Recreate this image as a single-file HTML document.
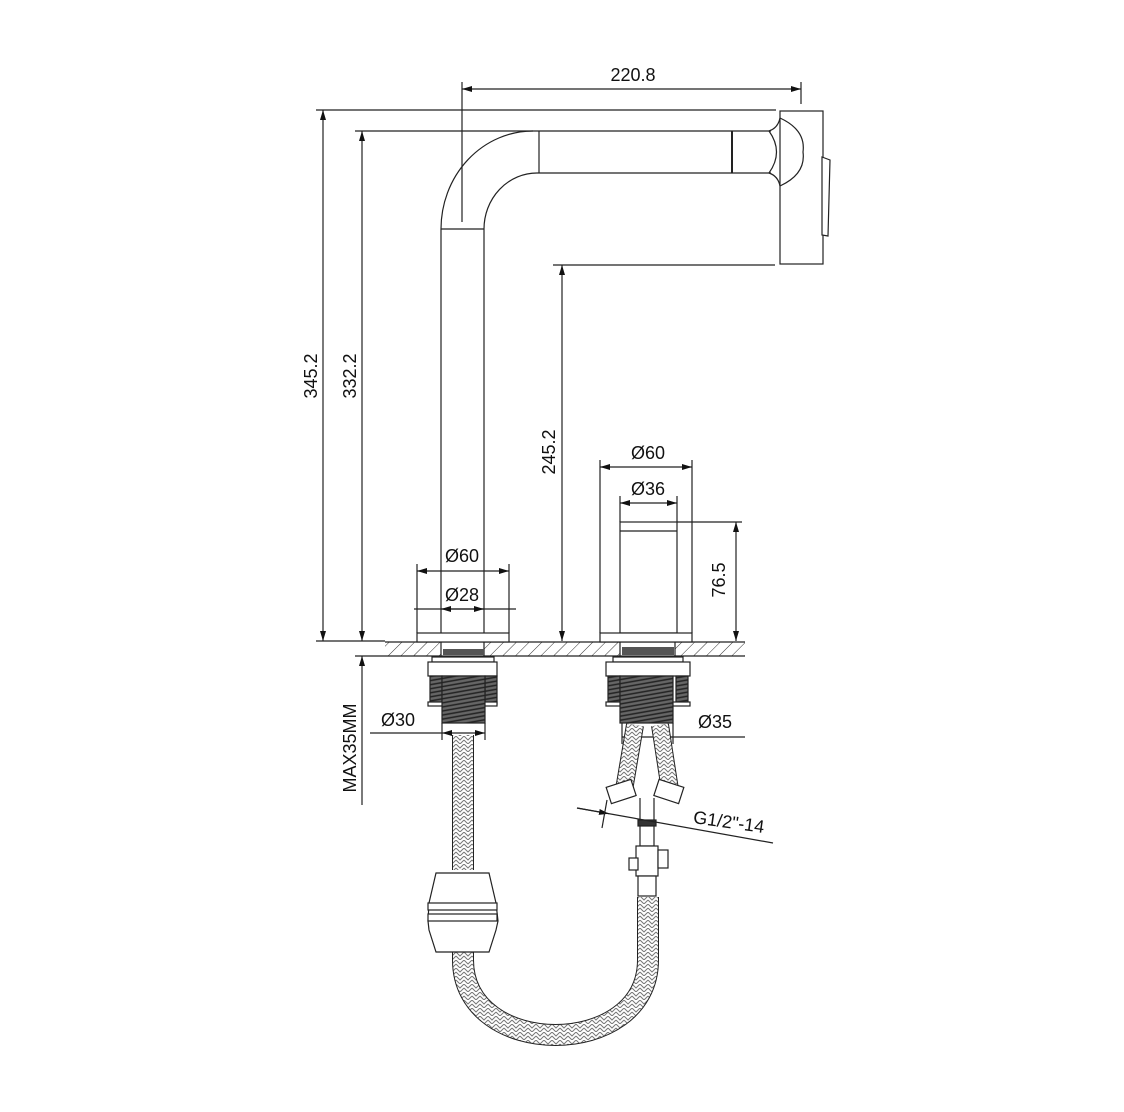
<!DOCTYPE html>
<html><head><meta charset="utf-8"><style>
html,body{margin:0;padding:0;background:#fff}
svg{display:block}
text{font-family:"Liberation Sans",sans-serif;font-size:18px;fill:#111}
</style></head><body>
<svg width="1124" height="1112" viewBox="0 0 1124 1112" xmlns="http://www.w3.org/2000/svg">
<defs>
<pattern id="hatch" width="9" height="9" patternUnits="userSpaceOnUse" patternTransform="rotate(45)">
<line x1="0" y1="0" x2="0" y2="9" stroke="#333" stroke-width="1"/></pattern>
<pattern id="braid" width="8" height="8" patternUnits="userSpaceOnUse">
<rect width="8" height="8" fill="#fff"/>
<path d="M0 0 L4 4 L8 0 M0 4 L4 8 L8 4" stroke="#777" stroke-width="1" fill="none"/></pattern>
<pattern id="thread" width="4" height="4" patternUnits="userSpaceOnUse" patternTransform="rotate(-10)">
<rect width="4" height="4" fill="#666"/><line x1="0" y1="1" x2="4" y2="1" stroke="#222" stroke-width="1.5"/></pattern>
<marker id="ar" markerWidth="10" markerHeight="6" refX="10" refY="3" orient="auto-start-reverse" markerUnits="userSpaceOnUse">
<path d="M0 0 L10 3 L0 6 Z" fill="#111"/></marker>
</defs>
<g stroke="#222" stroke-width="1.2" fill="none">
<line x1="462" y1="89" x2="801" y2="89" marker-start="url(#ar)" marker-end="url(#ar)"/>
<line x1="462" y1="82" x2="462" y2="222"/>
<line x1="801" y1="82" x2="801" y2="104"/>
<line x1="316" y1="110" x2="776" y2="110"/>
<line x1="355" y1="131" x2="537" y2="131"/>
<path d="M533 131 A92 98 0 0 0 441 229"/>
<path d="M537 173 A53 56 0 0 0 484 229"/>
<line x1="537" y1="131" x2="771" y2="131"/>
<line x1="537" y1="173" x2="771" y2="173"/>
<line x1="539" y1="131" x2="539" y2="173"/>
<line x1="732" y1="131" x2="732" y2="173" stroke-width="2"/>
<path d="M769 131 Q784 152 769 173"/>
<path d="M780 118 Q806 130 803 152 Q806 174 780 186"/>
<path d="M769 131 Q778 128 780 118 M769 173 Q778 176 780 186"/>
<rect x="780" y="111" width="43" height="153"/>
<path d="M822 157 L830 160 L828 236 L822 235 Z" fill="#fff"/>
<line x1="553" y1="265" x2="775" y2="265"/>
<line x1="441" y1="229" x2="441" y2="633"/>
<line x1="484" y1="229" x2="484" y2="633"/>
<line x1="441" y1="229" x2="484" y2="229"/>
<line x1="323" y1="110" x2="323" y2="641" marker-start="url(#ar)" marker-end="url(#ar)"/>
<line x1="362" y1="131" x2="362" y2="641" marker-start="url(#ar)" marker-end="url(#ar)"/>
<line x1="562" y1="265" x2="562" y2="641" marker-start="url(#ar)" marker-end="url(#ar)"/>
<line x1="316" y1="641" x2="385" y2="641"/>
<line x1="355" y1="656" x2="385" y2="656"/>
<line x1="362" y1="656" x2="362" y2="805" marker-start="url(#ar)"/>
<rect x="385" y="642" width="360" height="14" fill="url(#hatch)" stroke="none"/>
<line x1="385" y1="642" x2="745" y2="642"/>
<line x1="385" y1="656" x2="745" y2="656"/>
<rect x="441" y="642" width="43" height="14" fill="#fff"/>
<rect x="620" y="642" width="55" height="14" fill="#fff"/>
<rect x="443" y="649" width="41" height="6" fill="#555" stroke="none"/>
<rect x="622" y="647" width="52" height="8" fill="#555" stroke="none"/>
<rect x="417" y="633" width="92" height="9" fill="#fff"/>
<line x1="417" y1="571" x2="509" y2="571" marker-start="url(#ar)" marker-end="url(#ar)"/>
<line x1="417" y1="564" x2="417" y2="633"/><line x1="509" y1="564" x2="509" y2="633"/>
<line x1="414" y1="609" x2="516" y2="609"/>
<line x1="441" y1="609" x2="484" y2="609" marker-start="url(#ar)" marker-end="url(#ar)"/>
<line x1="600" y1="467" x2="692" y2="467" marker-start="url(#ar)" marker-end="url(#ar)"/>
<line x1="600" y1="460" x2="600" y2="633"/><line x1="692" y1="460" x2="692" y2="633"/>
<line x1="620" y1="503" x2="677" y2="503" marker-start="url(#ar)" marker-end="url(#ar)"/>
<line x1="620" y1="496" x2="620" y2="522"/><line x1="677" y1="496" x2="677" y2="522"/>
<rect x="620" y="522" width="57" height="111" fill="#fff"/>
<line x1="620" y1="531" x2="677" y2="531"/>
<rect x="600" y="633" width="92" height="9" fill="#fff"/>
<line x1="677" y1="522" x2="742" y2="522"/>
<line x1="736" y1="522" x2="736" y2="641" marker-start="url(#ar)" marker-end="url(#ar)"/>
<rect x="432" y="657" width="62" height="5" fill="#fff"/>
<rect x="428" y="662" width="69" height="14" fill="#fff"/>
<rect x="430" y="676" width="12" height="28" fill="url(#thread)"/>
<rect x="485" y="676" width="12" height="28" fill="url(#thread)"/>
<rect x="428" y="702" width="69" height="4" fill="#fff"/>
<rect x="442" y="676" width="43" height="47" fill="url(#thread)"/>
<line x1="370" y1="733" x2="442" y2="733"/>
<line x1="442" y1="733" x2="485" y2="733" marker-start="url(#ar)" marker-end="url(#ar)"/>
<line x1="442" y1="723" x2="442" y2="740"/><line x1="485" y1="723" x2="485" y2="740"/>
<rect x="613" y="657" width="70" height="5" fill="#fff"/>
<rect x="606" y="662" width="84" height="14" fill="#fff"/>
<rect x="608" y="676" width="12" height="28" fill="url(#thread)"/>
<rect x="676" y="676" width="12" height="28" fill="url(#thread)"/>
<rect x="606" y="702" width="84" height="4" fill="#fff"/>
<rect x="620" y="676" width="53" height="47" fill="url(#thread)"/>
<line x1="622" y1="737" x2="673" y2="737" marker-start="url(#ar)" marker-end="url(#ar)"/>
<line x1="673" y1="737" x2="745" y2="737"/>
<line x1="622" y1="723" x2="622" y2="744"/><line x1="673" y1="723" x2="673" y2="744"/>
<path d="M635 725 L624 790" stroke="#222" stroke-width="18"/>
<path d="M635 725 L624 790" stroke="url(#braid)" stroke-width="16"/>
<path d="M660 725 L670 790" stroke="#222" stroke-width="18"/>
<path d="M660 725 L670 790" stroke="url(#braid)" stroke-width="16"/>
<rect x="608" y="783" width="26" height="17" fill="#fff" transform="rotate(-18 621 791)"/>
<rect x="656" y="783" width="26" height="17" fill="#fff" transform="rotate(18 669 791)"/>
<line x1="640" y1="798" x2="640" y2="820"/><line x1="654" y1="798" x2="654" y2="820"/>
<rect x="638" y="820" width="18" height="6" fill="#333"/>
<rect x="640" y="826" width="14" height="20" fill="#fff"/>
<rect x="636" y="846" width="22" height="30" fill="#fff"/>
<rect x="629" y="858" width="9" height="12" fill="#fff"/>
<rect x="658" y="850" width="10" height="18" fill="#fff"/>
<rect x="638" y="876" width="18" height="20" fill="#fff"/>
<line x1="577" y1="808" x2="773" y2="843"/>
<line x1="577" y1="808" x2="609" y2="813.7" marker-end="url(#ar)"/>
<line x1="607" y1="800" x2="602" y2="828"/>
<path d="M463 735 L463 870" stroke="#222" stroke-width="22"/>
<path d="M463 735 L463 870" stroke="url(#braid)" stroke-width="20"/>
<path d="M463 952 L463 960 C463 1060 648 1060 648 960 L648 897" stroke="#222" stroke-width="22"/>
<path d="M463 952 L463 960 C463 1060 648 1060 648 960 L648 897" stroke="url(#braid)" stroke-width="20"/>
<path d="M436 873 L489 873 L496 903 L498 921 L496 930 L489 952 L436 952 L429 930 L428 921 L429 903 Z" fill="#fff"/>
<rect x="428" y="903" width="69" height="7" fill="#fff"/>
<rect x="428" y="914" width="69" height="7" fill="#fff"/>
</g>
<text x="633" y="81" text-anchor="middle">220.8</text>
<text transform="translate(317 376) rotate(-90)" text-anchor="middle">345.2</text>
<text transform="translate(356 376) rotate(-90)" text-anchor="middle">332.2</text>
<text transform="translate(555 452) rotate(-90)" text-anchor="middle">245.2</text>
<text transform="translate(725 580) rotate(-90)" text-anchor="middle">76.5</text>
<text transform="translate(356 748) rotate(-90)" text-anchor="middle">MAX35MM</text>
<text x="462" y="562" text-anchor="middle">Ø60</text>
<text x="462" y="601" text-anchor="middle">Ø28</text>
<text x="648" y="459" text-anchor="middle">Ø60</text>
<text x="648" y="495" text-anchor="middle">Ø36</text>
<text x="398" y="726" text-anchor="middle">Ø30</text>
<text x="715" y="728" text-anchor="middle">Ø35</text>
<text transform="translate(728 828) rotate(8)" text-anchor="middle">G1/2"-14</text>
</svg>
</body></html>
